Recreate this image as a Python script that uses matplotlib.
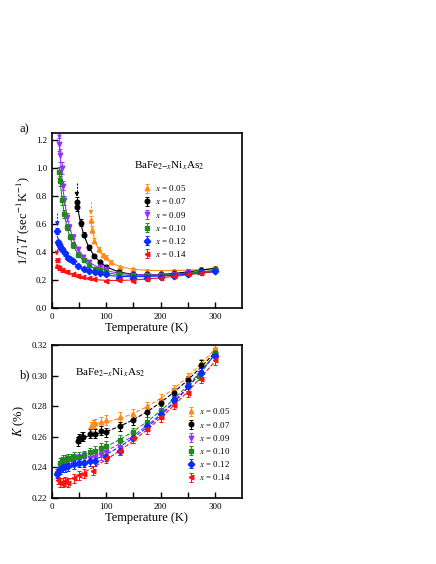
import numpy as np
import matplotlib

matplotlib.use('Agg')
matplotlib.rcParams['font.family'] = ['Liberation Serif', 'DejaVu Serif']
matplotlib.rcParams['mathtext.fontset'] = 'stix'
import matplotlib.pyplot as plt

# 조성별 라벨, 색, 마커
labels = ['0.05', '0.07', '0.09', '0.10', '0.12', '0.14']
colors = ['#ff8c1a', 'black', '#9a30ff', '#1f8a1f', '#0a2cff', '#ff1010']
markers = ['^', 'o', 'v', 's', 'D', '<']

# (a) 1/T1T
t1_T = [
    [72, 74, 78, 86, 95, 100, 109, 125, 150, 175, 200, 225, 250, 275, 300],
    [46, 47, 53, 59, 69, 78, 89, 99, 124, 149, 175, 200, 225, 250, 275, 300],
    [14, 15, 18, 20, 23, 27, 32, 38, 49, 58, 69, 89, 99, 124, 149, 175, 200, 225, 250, 275, 300],
    [14, 15, 19, 23, 28, 33, 38, 49, 59, 69, 79, 89, 99, 124, 149, 175, 200, 225, 250, 270, 300],
    [10, 12, 14, 16, 19, 24, 29, 34, 39, 49, 59, 69, 79, 89, 99, 124, 149, 175, 200, 225, 250, 275, 300],
    [9, 10, 14, 19, 27, 38, 49, 58, 68, 78, 99, 124, 149, 175, 200, 225, 250, 275],
]
t1_val = [
    [0.63, 0.56, 0.48, 0.42, 0.38, 0.365, 0.33, 0.29, 0.275, 0.265, 0.26, 0.265, 0.265, 0.28, 0.285],
    [0.76, 0.72, 0.61, 0.525, 0.435, 0.37, 0.325, 0.295, 0.26, 0.24, 0.24, 0.24, 0.25, 0.26, 0.27, 0.28],
    [1.17, 1.09, 1.0, 0.875, 0.77, 0.65, 0.58, 0.51, 0.42, 0.365, 0.325, 0.295, 0.28, 0.245, 0.235,
     0.235, 0.235, 0.245, 0.255, 0.26, 0.26],
    [0.97, 0.91, 0.77, 0.67, 0.58, 0.51, 0.45, 0.38, 0.34, 0.31, 0.28, 0.27, 0.26, 0.24, 0.23,
     0.225, 0.23, 0.235, 0.245, 0.255, 0.28],
    [0.55, 0.47, 0.46, 0.43, 0.42, 0.39, 0.36, 0.35, 0.335, 0.30, 0.28, 0.265, 0.255, 0.25, 0.24,
     0.215, 0.215, 0.215, 0.22, 0.23, 0.245, 0.255, 0.265],
    [0.34, 0.295, 0.285, 0.27, 0.26, 0.24, 0.23, 0.22, 0.215, 0.205, 0.19, 0.20, 0.195, 0.205,
     0.215, 0.225, 0.24, 0.25],
]
t1_arrow = [True, True, True, False, True, True]  # 첫 점 위 화살표
t1_err_frac = 0.04

# (b) Knight shift
k_T = [
    [72, 76, 80, 90, 100, 125, 150, 175, 200, 225, 250, 275, 300],
    [48, 50, 55, 58, 70, 80, 90, 100, 125, 150, 175, 200, 225, 250, 275, 300],
    [15, 20, 25, 30, 40, 50, 60, 70, 80, 90, 100, 125, 150, 175, 200, 225, 250, 275, 300],
    [15, 18, 20, 25, 30, 35, 40, 50, 60, 70, 80, 90, 100, 125, 150, 175, 200, 225, 250, 270, 300],
    [10, 12, 15, 20, 25, 30, 40, 50, 60, 70, 80, 100, 125, 150, 175, 200, 225, 250, 275, 300],
    [12, 15, 20, 25, 30, 40, 50, 60, 75, 100, 125, 150, 175, 200, 225, 250, 275, 300],
]
k_val = [
    [0.267, 0.268, 0.269, 0.270, 0.271, 0.273, 0.275, 0.280, 0.285, 0.291, 0.299, 0.308, 0.318],
    [0.257, 0.259, 0.260, 0.260, 0.262, 0.262, 0.264, 0.263, 0.267, 0.271, 0.276, 0.282, 0.289,
     0.297, 0.307, 0.315],
    [0.241, 0.243, 0.244, 0.244, 0.246, 0.246, 0.247, 0.246, 0.247, 0.248, 0.250, 0.253, 0.261,
     0.268, 0.276, 0.285, 0.294, 0.302, 0.313],
    [0.243, 0.244, 0.245, 0.245, 0.246, 0.246, 0.247, 0.247, 0.248, 0.250, 0.251, 0.253, 0.254,
     0.258, 0.263, 0.270, 0.277, 0.284, 0.294, 0.300, 0.315],
    [0.236, 0.237, 0.239, 0.240, 0.240, 0.241, 0.242, 0.243, 0.243, 0.244, 0.244, 0.247, 0.251,
     0.259, 0.267, 0.275, 0.284, 0.293, 0.302, 0.313],
    [0.232, 0.230, 0.230, 0.231, 0.230, 0.233, 0.235, 0.236, 0.238, 0.246, 0.251, 0.259, 0.265,
     0.273, 0.281, 0.289, 0.298, 0.310],
]
k_err = 0.003


def fit_t1(T, v):
    # a/(T+th) + b + c*T 형태로 최소제곱 맞춤
    T = np.asarray(T, float)
    v = np.asarray(v, float)
    best = None
    for th in np.arange(-T.min() + 1, 150, 0.5):
        A = np.column_stack([1 / (T + th), np.ones_like(T), T])
        coef, res, *_ = np.linalg.lstsq(A, v, rcond=None)
        r = np.sum((A @ coef - v) ** 2)
        if best is None or r < best[0]:
            best = (r, th, coef)
    _, th, coef = best
    tt = np.linspace(T.min(), 300, 300)
    return tt, coef[0] / (tt + th) + coef[1] + coef[2] * tt


def style_axes(ax):
    for s in ax.spines.values():
        s.set_linewidth(1.2)
    ax.set_xlim(0, 350)
    ax.set_xticks([0, 100, 200, 300])
    ax.set_xticks([50, 150, 250], minor=True)
    ax.tick_params(which='both', direction='in', length=4, width=1.0,
                   labelsize=6.5, top=False, right=False)
    ax.set_xlabel('Temperature (K)', fontsize=9, labelpad=1)


fig = plt.figure(figsize=(4.36, 5.64), dpi=100)
ax1 = fig.add_axes([0.119, 0.454, 0.436, 0.310])
ax2 = fig.add_axes([0.119, 0.117, 0.436, 0.271])

# 첫 번째 그래프
for i in range(len(labels)):
    T = t1_T[i]
    v = t1_val[i]
    tt, ff = fit_t1(T, v)
    ax1.plot(tt, ff, '-', color=colors[i], lw=0.8)
    ax1.errorbar(T, v, yerr=np.asarray(v) * t1_err_frac, fmt=markers[i], color=colors[i],
                 ms=3.3, elinewidth=0.7, capsize=1.2, capthick=0.7,
                 label=r'$x$ = ' + labels[i])
    if t1_arrow[i]:
        # 점선 + 화살촉
        ax1.plot([T[0], T[0]], [v[0] + 0.13, v[0] + 0.05], '--', color=colors[i],
                 lw=0.7, dashes=(2, 1.5))
        ax1.annotate('', xy=(T[0], v[0] + 0.035), xytext=(T[0], v[0] + 0.06),
                     arrowprops=dict(arrowstyle='-|>', color=colors[i], lw=0.7,
                                     mutation_scale=6, shrinkA=0, shrinkB=0))
style_axes(ax1)
ax1.set_ylim(0, 1.25)
ax1.set_yticks(np.arange(0, 1.21, 0.2))
ax1.yaxis.set_major_formatter(matplotlib.ticker.FormatStrFormatter('%.1f'))
ax1.set_ylabel(r'1/$T_1T$ (sec$^{-1}$K$^{-1}$)', fontsize=9, labelpad=3)
ax1.text(0.43, 0.80, r'BaFe$_{2\mathrm{-}x}$Ni$_x$As$_2$', transform=ax1.transAxes, fontsize=8)
ax1.legend(loc='upper left', bbox_to_anchor=(0.43, 0.76), frameon=False, fontsize=6.5,
           handletextpad=0.3, labelspacing=0.35, handlelength=1.2, markerscale=1.0)
fig.text(0.045, 0.765, 'a)', fontsize=9)

# 두 번째 그래프
for i in range(len(labels)):
    T = np.asarray(k_T[i], float)
    v = np.asarray(k_val[i], float)
    p = np.polyfit(T, v, 2)
    tt = np.linspace(T.min(), 300, 200)
    ax2.plot(tt, np.polyval(p, tt), '--', color=colors[i], lw=0.8)
    ax2.errorbar(T, v, yerr=k_err, fmt=markers[i], color=colors[i], ms=3.3,
                 elinewidth=0.7, capsize=1.2, capthick=0.7, label=r'$x$ = ' + labels[i])
style_axes(ax2)
ax2.set_ylim(0.22, 0.32)
ax2.set_yticks(np.arange(0.22, 0.321, 0.02))
ax2.yaxis.set_major_formatter(matplotlib.ticker.FormatStrFormatter('%.2f'))
ax2.set_ylabel(r'$K$ (%)', fontsize=9, labelpad=3)
ax2.text(0.12, 0.80, r'BaFe$_{2\mathrm{-}x}$Ni$_x$As$_2$', transform=ax2.transAxes, fontsize=8)
ax2.legend(loc='lower left', bbox_to_anchor=(0.66, 0.05), frameon=False, fontsize=6.5,
           handletextpad=0.3, labelspacing=0.35, handlelength=1.2)
fig.text(0.045, 0.33, 'b)', fontsize=9)

fig.savefig('out.png', dpi=100)
